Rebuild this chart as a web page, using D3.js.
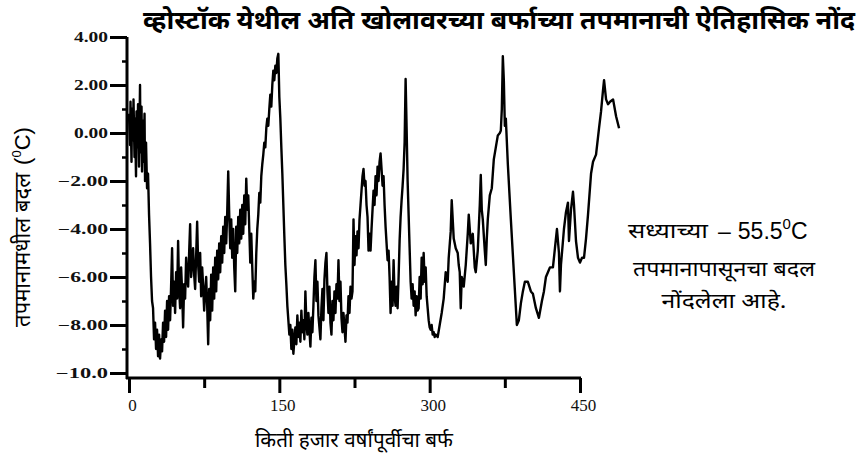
<!DOCTYPE html>
<html>
<head>
<meta charset="utf-8">
<script src="https://cdn.jsdelivr.net/npm/d3@7"></script>
<style>
  body { margin: 0; background: #fff; }
</style>
</head>
<body>
<div id="vis"></div>
<script>
// frame size
const FRAME_WIDTH = 857;
const FRAME_HEIGHT = 458;
const DEV_FONT = "'Noto Sans Devanagari', 'Lohit Devanagari', 'Noto Sans', sans-serif";

// texts
const TITLE = "व्होस्टॉक येथील अति खोलावरच्या बर्फाच्या तपमानाची ऐतिहासिक नोंद";
const X_TITLE = "किती हजार वर्षांपूर्वीचा बर्फ";
const Y_TITLE = "तपमानामधील बदल";
const NOTE_HEAD = "सध्याच्या";
const NOTE_LINES = ["तपमानापासूनचा बदल", "नोंदलेला आहे."];
const NOTE_WIDTHS = [182, 125];

// ticks
const X_TICKS = [0, 150, 300, 450];
const X_MINOR = [75, 225, 375];
const Y_TICKS = [4, 2, 0, -2, -4, -6, -8, -10];
const Y_TICK_LABELS = ["4.00", "2.00", "0.00", "−2.00", "−4.00", "−6.00", "−8.00", "−10.0"];
const Y_LABEL_WIDTHS = [34, 34, 34, 50, 50, 50, 50, 52];
const Y_MINOR = [3, 1, -1, -3, -5, -7, -9];

// data: age (thousand years) and temperature change
const AGES = [
  0, 1, 1.5, 2.5, 3, 4, 4.5, 5.5, 6, 7, 7.5, 8.5, 9, 10, 11, 11.5, 12.5, 13, 14, 14.5, 15.5, 16, 17,
  18, 19, 20, 21, 22, 23, 24,
  25, 26, 27, 28, 29, 30, 31, 32, 33, 34, 35,
  36, 37, 38, 39, 40, 41, 42, 43, 44, 45, 46, 47, 48, 49, 50, 51, 52, 53, 54, 55, 56, 57, 58, 59,
  60, 61, 62, 63, 64, 65, 66, 67, 68, 69, 70, 71, 72, 73, 74, 75, 76, 77, 78, 79,
  80, 81, 82, 83, 84, 85, 86, 87, 88, 89, 90, 91, 92, 93, 94, 95, 96, 97, 98, 99,
  100, 101, 102, 103, 104, 105, 106, 107, 108, 109, 110, 111, 112, 113, 114, 115, 116, 117, 118, 119,
  120, 121, 122, 123, 124, 125, 126, 127, 128, 129, 130, 131, 132, 133, 134, 135, 136, 137, 138, 139,
  140, 141, 142, 143, 144, 145, 146, 147, 148, 149, 150, 151, 152, 153, 154, 155, 156, 157, 158, 159,
  160, 161, 162, 163, 164, 166, 167, 168, 169, 170, 171, 172, 173, 174, 175, 176, 177, 178, 179,
  180, 181, 182, 183, 184, 185, 186, 187, 188, 189, 190, 191, 192, 193, 194, 195, 196, 197, 198, 199,
  200, 201, 202, 203, 204, 205, 206, 207, 208, 209, 210, 211, 212, 213, 214, 215, 216, 217, 218, 219,
  220, 221, 222, 223, 224, 225, 226, 227, 228, 229, 230, 231, 232, 233, 234, 235, 236, 237, 238, 239,
  240, 241, 242, 244, 245, 246, 247, 248, 249, 250, 251, 252, 253, 254, 255, 256, 257, 258, 259,
  260, 261, 262, 263, 264, 265, 266, 267, 268, 269, 270, 271, 272, 273, 274, 275, 276, 277, 278, 279,
  280, 281, 282, 283, 284, 285, 286, 287, 288, 289, 290, 291, 292, 293, 294, 295, 296, 297, 298, 299,
  300, 301, 302, 303, 304, 305, 306, 308, 310, 312, 314, 316, 318, 319, 321, 322, 324, 326, 328, 329,
  330, 331, 332, 334, 336, 338, 339, 341, 343, 345, 346, 348, 350, 351, 352, 353, 355, 356, 357, 358,
  360, 362, 364, 366, 368, 370, 371, 372, 373, 374, 375, 376, 378, 381, 384, 387, 389, 391, 393, 395,
  398, 401, 403, 406, 409, 412, 414, 416, 418, 420, 423, 425, 427, 429, 430, 431, 433, 434, 436, 438,
  439, 441, 443, 444, 446, 448, 450, 452, 454, 456, 458, 461, 463, 466, 469, 471, 473, 474, 476, 478,
  480, 483, 486, 489
];
const TEMPS = [
  0.8, -0.5, 1.3, -1.2, 1.0, -0.3, 1.4, -1.0, 0.6, -1.8, 0.9, -0.6, 1.2, -1.4, 2.0, -0.8, 1.1, -1.6, 0.5, -1.2, 0.8, -2.0, -0.4,
  -2.3, -1.7, -3.4, -4.6, -6.0, -7.0, -7.3,
  -8.6, -7.9, -9.0, -8.2, -9.3, -8.4, -9.4, -8.6, -9.1, -7.9, -8.7,
  -7.4, -8.5, -7.0, -8.2, -6.8, -7.8, -6.4, -4.8, -7.2, -6.2, -7.5, -5.8, -6.9, -4.5, -6.5, -7.3, -5.6, -6.6, -8.1, -6.3, -6.9, -5.2, -6.0, -6.4,
  -5.0, -3.8, -6.0, -5.4, -4.8, -5.9, -6.5, -5.1, -3.7, -5.5, -6.2, -5.0, -6.8, -5.6, -6.4, -7.4, -6.6, -6.0, -7.2, -8.8,
  -6.5, -7.8, -5.9, -7.4, -5.6, -6.9, -5.2, -6.6, -4.9, -6.1, -4.6, -5.8, -4.3, -5.4, -3.9, -5.0, -3.5, -4.6, -3.3, -1.6,
  -3.4, -4.8, -3.6, -5.2, -4.0, -5.6, -6.6, -3.9, -5.0, -3.5, -4.6, -3.2, -4.4, -3.0, -4.2, -2.6, -3.8, -1.9, -3.2, -2.6,
  -4.0, -5.4, -4.2, -5.6, -6.9, -6.2, -6.6, -5.0, -4.0, -3.4, -2.5, -2.9, -1.8, -1.3, -0.9, -0.4, -0.6, 0.2, 0.6, 0.3,
  1.0, 1.6, 1.1, 2.0, 2.6, 2.2, 2.8, 2.5, 3.1, 3.3, 1.5, 0.6, -0.6, -1.7, -3.0, -4.3, -5.5, -6.3, -7.2, -7.8,
  -8.4, -8.0, -9.0, -8.2, -9.2, -8.1, -8.8, -7.6, -8.5, -7.9, -8.7, -7.4, -8.3, -7.8, -8.6, -6.6, -7.9, -8.4, -7.5,
  -8.2, -8.9, -7.7, -8.3, -7.2, -6.0, -5.3, -7.0, -6.2, -7.6, -8.1, -8.6, -7.3, -6.5, -7.8, -6.1, -5.4, -5.0, -6.6, -7.5,
  -6.4, -7.9, -8.4, -7.0, -7.8, -6.6, -7.5, -6.3, -6.9, -5.3, -7.0, -6.2, -7.7, -8.3, -7.5, -8.1, -8.7, -7.6, -7.9, -6.8,
  -7.5, -6.4, -6.9, -6.6, -3.6, -5.5, -4.3, -5.1, -4.1, -4.8, -3.6, -3.0, -2.4, -1.8, -1.5, -2.2, -2.0, -3.0, -3.5, -4.9,
  -4.2, -4.9, -4.0, -2.4, -3.0, -1.8, -2.6, -1.4, -2.0, -1.2, -0.85, -1.5, -2.2, -1.8, -3.0, -3.9, -4.6, -5.3, -4.9,
  -6.0, -7.5, -6.2, -7.2, -5.3, -6.8, -7.2, -6.4, -7.3, -6.0, -4.5, -3.5, -2.8, -2.2, -1.5, -0.4, 2.25, 0.2, -2.0, -3.4,
  -4.8, -6.2, -6.9, -6.3, -7.2, -6.6, -7.6, -6.8, -7.4, -7.3, -6.0, -6.9, -5.2, -6.3, -5.0, -6.2, -5.6, -6.8, -7.3, -7.8,
  -8.1, -8.2, -8.0, -8.4, -8.3, -8.5, -8.4, -8.5, -8.0, -7.5, -6.9, -5.8, -6.2, -5.2, -4.1, -2.8, -4.4, -4.8, -5.0, -5.5,
  -5.8, -7.3, -6.0, -6.4, -5.5, -4.2, -3.4, -4.6, -4.2, -5.6, -5.8, -4.9, -3.0, -1.75, -3.2, -3.6, -4.9, -5.5, -4.4, -3.6,
  -2.6, -2.3, -1.1, -0.6, -0.1, 0.0, 0.1, 1.0, 3.2, 2.2, 0.3, 0.6, -1.3, -3.6, -5.8, -8.0, -7.8, -7.1, -6.6, -6.2,
  -6.2, -6.6, -6.7, -7.3, -7.7, -7.0, -6.6, -6.0, -5.8, -5.6, -5.6, -4.8, -4.0, -5.0, -6.6, -5.5, -4.5, -4.0, -3.3, -2.9,
  -4.5, -3.2, -2.45, -3.0, -4.5, -5.2, -5.4, -5.2, -5.2, -4.4, -3.4, -1.7, -1.2, -0.9, 0.2, 0.9, 1.8, 2.2, 1.4, 1.2,
  1.3, 1.4, 0.7, 0.2
];

// create FRAME
const FRAME = d3.select("#vis")
  .append("svg")
    .attr("width", FRAME_WIDTH)
    .attr("height", FRAME_HEIGHT);

// scales
const X_SCALE = d3.scaleLinear().domain([0, 450]).range([129, 580]);
const Y_SCALE = d3.scaleLinear().domain([-10, 4]).range([373, 37]);
const AXIS_Y = 378;
const AXIS_X = 127;

// x axis (major + minor ticks)
const xAxis = FRAME.append("g")
  .attr("transform", "translate(0," + AXIS_Y + ")")
  .call(d3.axisBottom(X_SCALE).tickValues(X_TICKS).tickSize(15).tickSizeOuter(0).tickPadding(6));
xAxis.select(".domain").remove();
xAxis.selectAll("line").attr("stroke", "#000").attr("stroke-width", 3);
xAxis.selectAll("text")
  .attr("font-family", "'Liberation Serif', serif")
  .attr("font-size", "17px")
  .attr("dx", 3)
  .attr("fill", "#111");

const xMinor = FRAME.append("g")
  .attr("transform", "translate(0," + AXIS_Y + ")")
  .call(d3.axisBottom(X_SCALE).tickValues(X_MINOR).tickSize(10).tickFormat(""));
xMinor.select(".domain").remove();
xMinor.selectAll("line").attr("stroke", "#000").attr("stroke-width", 3);

// y axis (major + minor ticks)
const yAxis = FRAME.append("g")
  .attr("transform", "translate(" + AXIS_X + ",0)")
  .call(d3.axisLeft(Y_SCALE).tickValues(Y_TICKS).tickSize(17).tickPadding(2)
    .tickFormat((d, i) => Y_TICK_LABELS[i]));
yAxis.select(".domain").remove();
yAxis.selectAll("line").attr("stroke", "#000").attr("stroke-width", 3);
// the scanned labels are wide and flat
yAxis.selectAll("text")
  .attr("font-family", "'Liberation Serif', serif")
  .attr("font-weight", "bold")
  .attr("font-size", "14px")
  .attr("fill", "#111")
  .attr("textLength", (d, i) => Y_LABEL_WIDTHS[i])
  .attr("lengthAdjust", "spacingAndGlyphs");

const yMinor = FRAME.append("g")
  .attr("transform", "translate(" + AXIS_X + ",0)")
  .call(d3.axisLeft(Y_SCALE).tickValues(Y_MINOR).tickSize(5).tickFormat(""));
yMinor.select(".domain").remove();
yMinor.selectAll("line").attr("stroke", "#000").attr("stroke-width", 2.5);

// axis lines
FRAME.append("line")
  .attr("x1", AXIS_X).attr("x2", AXIS_X)
  .attr("y1", Y_SCALE(4)).attr("y2", AXIS_Y + 1)
  .attr("stroke", "#000").attr("stroke-width", 3);
FRAME.append("line")
  .attr("x1", AXIS_X - 1).attr("x2", X_SCALE(450) + 1)
  .attr("y1", AXIS_Y).attr("y2", AXIS_Y)
  .attr("stroke", "#000").attr("stroke-width", 3);

// temperature line
const line = d3.line()
  .x((d, i) => X_SCALE(AGES[i]))
  .y((d) => Y_SCALE(d));

FRAME.append("path")
  .datum(TEMPS)
  .attr("d", line)
  .attr("fill", "none")
  .attr("stroke", "#000")
  .attr("stroke-width", 2.4)
  .attr("stroke-linejoin", "round");

// title
FRAME.append("text")
  .attr("x", 143).attr("y", 29)
  .attr("font-family", DEV_FONT)
  .attr("font-weight", "bold")
  .attr("font-size", "25px")
  .attr("textLength", 712)
  .attr("lengthAdjust", "spacingAndGlyphs")
  .text(TITLE);

// x axis title
FRAME.append("text")
  .attr("x", 354).attr("y", 447)
  .attr("text-anchor", "middle")
  .attr("font-family", DEV_FONT)
  .attr("font-size", "20px")
  .attr("textLength", 198)
  .attr("lengthAdjust", "spacingAndGlyphs")
  .text(X_TITLE);

// y axis title
const yTitle = FRAME.append("text")
  .attr("transform", "translate(30,227) rotate(-90)")
  .attr("text-anchor", "middle")
  .attr("font-family", DEV_FONT)
  .attr("font-size", "22px");
yTitle.append("tspan").text(Y_TITLE);
yTitle.append("tspan").attr("dx", 8).attr("font-family", "'Liberation Sans', sans-serif").text("(");
yTitle.append("tspan").attr("font-family", "'Liberation Sans', sans-serif").attr("font-size", "13px").attr("dy", -9).text("0");
yTitle.append("tspan").attr("dy", 9).attr("font-family", "'Liberation Sans', sans-serif").text("C)");

// note
FRAME.append("text")
  .attr("x", 628).attr("y", 238)
  .attr("font-family", DEV_FONT)
  .attr("font-size", "20px")
  .attr("textLength", 80)
  .attr("lengthAdjust", "spacingAndGlyphs")
  .text(NOTE_HEAD);

const note1 = FRAME.append("text")
  .attr("x", 718).attr("y", 239)
  .attr("font-family", "'Liberation Sans', sans-serif")
  .attr("font-size", "23px");
note1.append("tspan").text("–");
note1.append("tspan").attr("dx", 7).text("55.5");
note1.append("tspan").attr("font-size", "15px").attr("dy", -10).text("0");
note1.append("tspan").attr("dy", 10).text("C");

FRAME.selectAll(".note")
  .data(NOTE_LINES)
  .enter()
  .append("text")
    .attr("class", "note")
    .attr("x", 724)
    .attr("y", (d, i) => 276 + i * 32)
    .attr("text-anchor", "middle")
    .attr("font-family", DEV_FONT)
    .attr("font-size", "20px")
    .attr("textLength", (d, i) => NOTE_WIDTHS[i])
    .attr("lengthAdjust", "spacingAndGlyphs")
    .text((d) => d);
</script>
</body>
</html>
